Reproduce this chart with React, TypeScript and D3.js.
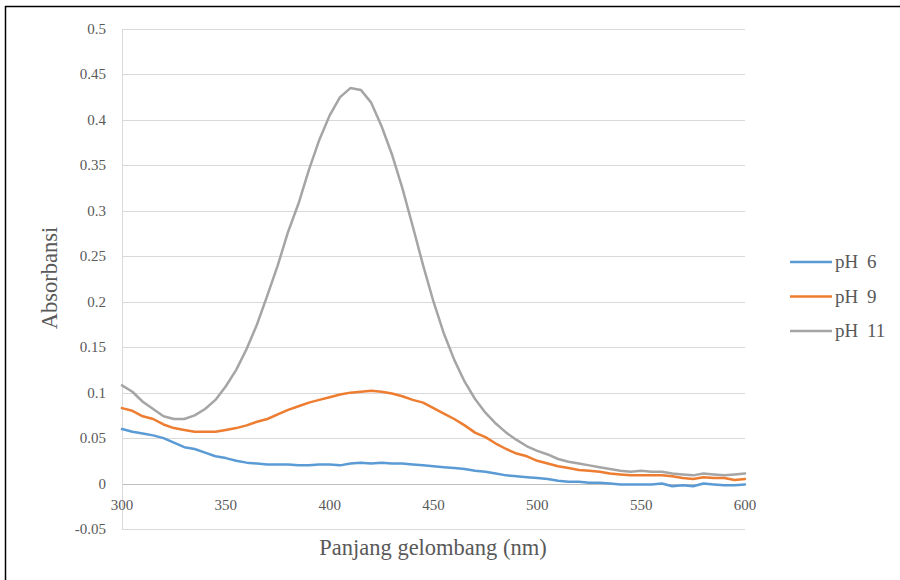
import React from "react";
import * as d3 from "d3";

const wavelengths = [300,305,310,315,320,325,330,335,340,345,350,355,360,365,370,375,380,385,390,395,400,405,410,415,420,425,430,435,440,445,450,455,460,465,470,475,480,485,490,495,500,505,510,515,520,525,530,535,540,545,550,555,560,565,570,575,580,585,590,595,600];

const pH6 = [0.060,0.057,0.055,0.053,0.050,0.045,0.040,0.038,0.034,0.030,0.028,0.025,0.023,0.022,0.021,0.021,0.021,0.020,0.020,0.021,0.021,0.020,0.022,0.023,0.022,0.023,0.022,0.022,0.021,0.020,0.019,0.018,0.017,0.016,0.014,0.013,0.011,0.009,0.008,0.007,0.006,0.005,0.003,0.002,0.002,0.001,0.001,0.000,-0.001,-0.001,-0.001,-0.001,0.000,-0.003,-0.002,-0.003,0.000,-0.001,-0.002,-0.002,-0.001];

const pH9 = [0.083,0.080,0.074,0.071,0.065,0.061,0.059,0.057,0.057,0.057,0.059,0.061,0.064,0.068,0.071,0.076,0.081,0.085,0.089,0.092,0.095,0.098,0.100,0.101,0.102,0.101,0.099,0.096,0.092,0.089,0.083,0.077,0.071,0.064,0.056,0.051,0.044,0.038,0.033,0.030,0.025,0.022,0.019,0.017,0.015,0.014,0.013,0.011,0.010,0.009,0.009,0.009,0.009,0.008,0.006,0.005,0.007,0.006,0.006,0.004,0.005];

const pH11 = [0.108,0.101,0.090,0.082,0.074,0.071,0.071,0.075,0.082,0.092,0.107,0.125,0.148,0.175,0.207,0.240,0.277,0.308,0.345,0.378,0.405,0.425,0.435,0.433,0.419,0.393,0.362,0.325,0.283,0.240,0.200,0.165,0.136,0.112,0.093,0.078,0.066,0.056,0.048,0.041,0.036,0.032,0.027,0.024,0.022,0.020,0.018,0.016,0.014,0.013,0.014,0.013,0.013,0.011,0.010,0.009,0.011,0.010,0.009,0.010,0.011];

const seriesNames = ["pH 6", "pH 9", "pH 11"];
const seriesColors = ["#5B9BD5", "#ED7D31", "#A5A5A5"];
const xTicks = [300, 350, 400, 450, 500, 550, 600];
const yTicks = [-0.05, 0, 0.05, 0.1, 0.15, 0.2, 0.25, 0.3, 0.35, 0.4, 0.45, 0.5];
const yTickLabels = ["-0.05", "0", "0.05", "0.1", "0.15", "0.2", "0.25", "0.3", "0.35", "0.4", "0.45", "0.5"];
const xTitle = "Panjang gelombang (nm)";
const yTitle = "Absorbansi";

export default function App() {
  const W = 900, H = 580;
  const x = d3.scaleLinear().domain([300, 600]).range([122, 745]);
  const y = d3.scaleLinear().domain([-0.05, 0.5]).range([529, 29]);
  const data = [pH6, pH9, pH11];
  const line = d3
    .line<number>()
    .x((_, i) => x(wavelengths[i]))
    .y((d) => y(d));
  const fontStyle = { fontFamily: "Liberation Serif, Times New Roman, Times, serif" };
  const textColor = "#595959";
  return (
    <svg width={W} height={H} style={{ position: "absolute", left: 0, top: 0, background: "#fff" }}>
      <rect x={0} y={0} width={W} height={H} fill="#fff" />
      <line x1={5} y1={6.5} x2={W} y2={6.5} stroke="#000" strokeWidth={1.5} />
      <line x1={5.5} y1={6} x2={5.5} y2={H} stroke="#000" strokeWidth={1.5} />
      {yTicks.map((t) => (
        <line key={t} x1={x(300)} x2={x(600)} y1={Math.round(y(t)) + 0.5} y2={Math.round(y(t)) + 0.5} stroke={t === 0 ? "#bfbfbf" : "#d9d9d9"} strokeWidth={1} />
      ))}
      <line x1={x(300) + 0.5} x2={x(300) + 0.5} y1={y(0.5)} y2={y(-0.05)} stroke="#d9d9d9" strokeWidth={1} />
      {yTicks.map((t, i) => (
        <text key={t} x={106} y={y(t) + 5} textAnchor="end" fontSize={15} fill={textColor} style={fontStyle}>
          {yTickLabels[i]}
        </text>
      ))}
      {xTicks.map((t) => (
        <text key={t} x={x(t)} y={y(0) + 26} textAnchor="middle" fontSize={15} fill={textColor} style={fontStyle}>
          {t}
        </text>
      ))}
      {data.map((s, i) => (
        <path key={i} d={line(s) || ""} fill="none" stroke={seriesColors[i]} strokeWidth={2.5} strokeLinejoin="round" strokeLinecap="round" />
      ))}
      <text x={433} y={555} textAnchor="middle" fontSize={22.5} fill={textColor} style={fontStyle}>
        {xTitle}
      </text>
      <text transform={`translate(57, 278) rotate(-90)`} textAnchor="middle" fontSize={22.5} fill={textColor} style={fontStyle}>
        {yTitle}
      </text>
      {seriesNames.map((n, i) => (
        <g key={n} transform={`translate(0, ${262 + i * 34.5})`}>
          <line x1={790} x2={832} y1={0} y2={0} stroke={seriesColors[i]} strokeWidth={2.5} />
          <text x={835} y={6} fontSize={19} fill={textColor} wordSpacing={4} style={fontStyle}>
            {n}
          </text>
        </g>
      ))}
    </svg>
  );
}
